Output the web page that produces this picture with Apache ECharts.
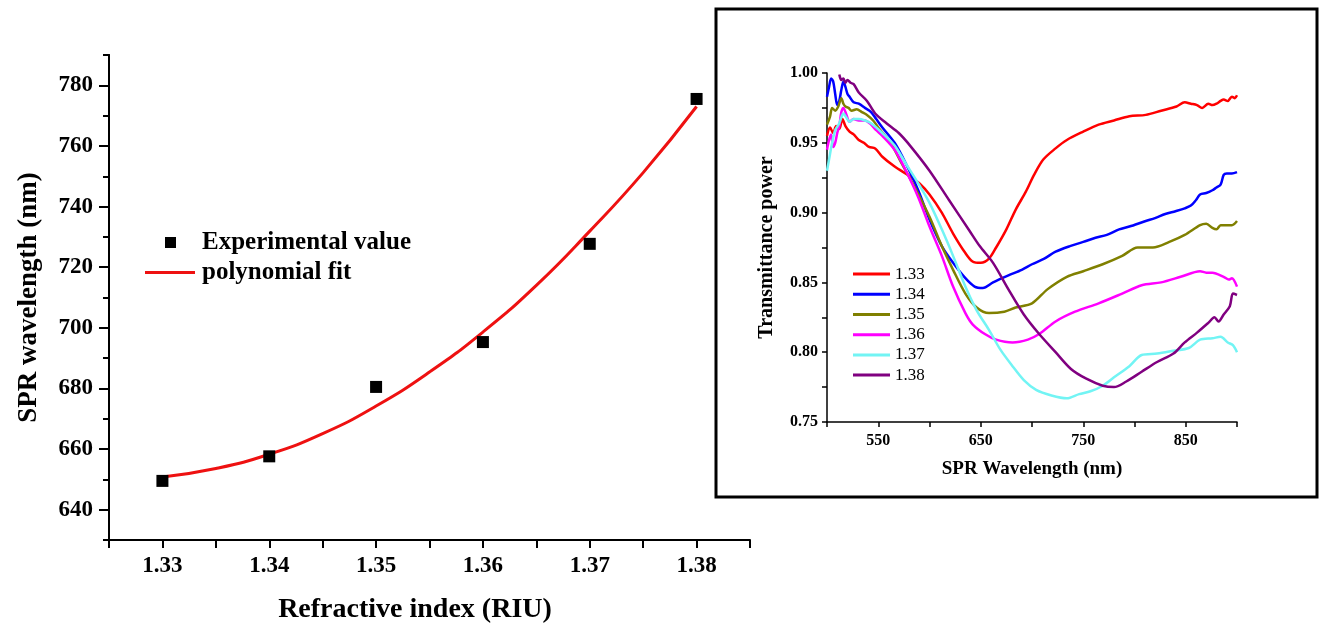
<!DOCTYPE html>
<html>
<head>
<meta charset="utf-8">
<title>SPR wavelength vs refractive index</title>
<script src="https://cdn.jsdelivr.net/npm/echarts@6/dist/echarts.min.js"></script>
<style>
  html, body { margin: 0; padding: 0; background: #fff; }
  #chart { width: 1324px; height: 630px; }
</style>
</head>
<body>
<div id="chart"></div>
<script>
// main plot: SPR dip wavelength vs refractive index
const riu = [1.33, 1.34, 1.35, 1.36, 1.37, 1.38]
const sprExp = [649.5, 657.6, 680.5, 695.3, 727.7, 775.5]
// fitted curve
const fitRiu = [1.33, 1.335, 1.34, 1.345, 1.35, 1.355, 1.36, 1.365, 1.37, 1.375, 1.38]
const fitSpr = [650.8, 653.6, 658.3, 665.1, 674.2, 685.4, 698.6, 714.0, 731.9, 751.2, 773.0]
const riuTicks = [1.33, 1.34, 1.35, 1.36, 1.37, 1.38]
const sprTicks = [640, 660, 680, 700, 720, 740, 760, 780]

// inset: transmittance spectra [wavelength nm, transmittance]
const t133 = [[500,0.955],[503,0.961],[506,0.957],[509,0.962],[512,0.960],[515,0.967],[518,0.962],[522,0.958],[526,0.956],[531,0.952],[536,0.950],[541,0.947],[547,0.946],[554,0.940],[566,0.933],[581,0.926],[590,0.921],[600,0.913],[612,0.900],[623,0.885],[635,0.871],[642,0.865],[650,0.864],[658,0.867],[665,0.875],[675,0.888],[684,0.902],[694,0.915],[702,0.927],[711,0.938],[723,0.946],[734,0.952],[750,0.958],[765,0.963],[780,0.966],[795,0.969],[811,0.970],[826,0.973],[841,0.976],[849,0.979],[855,0.978],[861,0.977],[866,0.975],[872,0.978],[876,0.977],[880,0.978],[884,0.980],[887,0.981],[891,0.980],[895,0.983],[898,0.982],[900,0.984]]
const t134 = [[500,0.983],[502,0.990],[504,0.996],[506,0.994],[508,0.985],[510,0.977],[512,0.980],[514,0.988],[516,0.994],[518,0.990],[520,0.985],[522,0.983],[526,0.979],[531,0.978],[537,0.975],[543,0.972],[548,0.967],[554,0.961],[566,0.950],[577,0.935],[589,0.916],[600,0.895],[612,0.876],[623,0.864],[635,0.853],[644,0.847],[652,0.846],[662,0.850],[677,0.855],[690,0.859],[700,0.863],[712,0.867],[723,0.872],[737,0.876],[750,0.879],[762,0.882],[773,0.884],[785,0.888],[795,0.890],[811,0.894],[820,0.896],[830,0.899],[840,0.901],[849,0.903],[855,0.905],[860,0.909],[864,0.913],[870,0.914],[876,0.916],[880,0.918],[884,0.920],[887,0.927],[890,0.928],[895,0.928],[900,0.929]]
const t135 = [[500,0.963],[503,0.969],[505,0.975],[508,0.973],[511,0.976],[514,0.982],[516,0.978],[518,0.976],[521,0.975],[524,0.973],[529,0.974],[534,0.972],[539,0.970],[545,0.966],[551,0.960],[562,0.950],[573,0.935],[585,0.919],[600,0.897],[612,0.876],[623,0.859],[635,0.842],[646,0.832],[658,0.828],[673,0.829],[684,0.832],[700,0.835],[715,0.845],[734,0.854],[750,0.858],[769,0.863],[788,0.869],[803,0.875],[818,0.875],[834,0.879],[849,0.884],[864,0.891],[870,0.892],[876,0.889],[880,0.888],[884,0.891],[887,0.891],[895,0.891],[900,0.894]]
const t136 = [[500,0.945],[502,0.952],[504,0.956],[506,0.947],[508,0.950],[510,0.957],[512,0.962],[514,0.972],[516,0.975],[519,0.970],[522,0.965],[526,0.967],[531,0.966],[537,0.966],[543,0.963],[548,0.959],[554,0.955],[566,0.945],[577,0.930],[589,0.911],[600,0.890],[612,0.869],[623,0.847],[635,0.828],[642,0.820],[654,0.813],[665,0.809],[681,0.807],[696,0.809],[707,0.813],[723,0.822],[742,0.829],[765,0.835],[788,0.842],[807,0.848],[826,0.850],[845,0.854],[864,0.858],[870,0.857],[876,0.857],[887,0.854],[892,0.852],[895,0.853],[900,0.847]]
const t137 = [[500,0.930],[502,0.938],[505,0.950],[508,0.959],[512,0.964],[516,0.971],[519,0.968],[522,0.965],[526,0.967],[531,0.967],[537,0.966],[543,0.964],[554,0.957],[566,0.948],[577,0.935],[589,0.921],[600,0.907],[612,0.888],[623,0.869],[635,0.847],[646,0.830],[658,0.816],[669,0.802],[681,0.790],[692,0.780],[704,0.773],[719,0.769],[734,0.767],[746,0.770],[757,0.772],[769,0.776],[780,0.782],[795,0.790],[807,0.798],[822,0.799],[838,0.801],[853,0.803],[864,0.809],[876,0.810],[884,0.811],[891,0.807],[896,0.805],[900,0.800]]
const t138 = [[512,0.999],[514,0.995],[516,0.996],[518,0.993],[520,0.995],[523,0.993],[526,0.992],[531,0.986],[539,0.980],[547,0.971],[558,0.964],[570,0.957],[581,0.948],[600,0.930],[619,0.909],[639,0.887],[649,0.876],[662,0.864],[677,0.845],[692,0.827],[707,0.813],[723,0.800],[738,0.788],[753,0.781],[769,0.776],[780,0.775],[792,0.779],[807,0.786],[822,0.793],[838,0.799],[849,0.807],[861,0.814],[872,0.821],[878,0.825],[882,0.822],[887,0.827],[893,0.833],[896,0.842],[900,0.841]]
const wlTicks = [550, 650, 750, 850]
const tTicks = [0.75, 0.80, 0.85, 0.90, 0.95, 1.00]

const insetNames = ['1.33', '1.34', '1.35', '1.36', '1.37', '1.38']
const insetColors = ['#ff0000', '#0000ff', '#808000', '#ff00ff', '#72f4f4', '#800080']
const insetData = [t133, t134, t135, t136, t137, t138]

const serif = 'Liberation Serif, Times New Roman, serif'

const chart = echarts.init(document.getElementById('chart'))

const insetSeries = insetNames.map((name, i) => ({
  name: name,
  type: 'line',
  xAxisIndex: 1,
  yAxisIndex: 1,
  data: insetData[i],
  symbol: 'none',
  smooth: 0.3,
  lineStyle: { color: insetColors[i], width: 2.5 },
  itemStyle: { color: insetColors[i] }
}))

const blackLine = w => ({ lineStyle: { color: '#000', width: w } })

chart.setOption({
  animation: false,
  backgroundColor: '#fff',
  graphic: [{
    type: 'rect',
    z: -10,
    shape: { x: 716, y: 9, width: 601, height: 488 },
    style: { fill: '#fff', stroke: '#000', lineWidth: 3 }
  }],
  grid: [
    { left: 109, right: 574, top: 55, bottom: 90, outerBoundsMode: 'none' },
    { left: 827, right: 87, top: 73, bottom: 208, outerBoundsMode: 'none' }
  ],
  legend: [
    {
      data: ['Experimental value'],
      left: 165, top: 230, padding: 0,
      itemWidth: 11, itemHeight: 11,
      textStyle: { fontFamily: serif, fontWeight: 'bold', fontSize: 25, color: '#000', padding: [0, 0, 0, 21] }
    },
    {
      data: [{ name: 'polynomial fit', icon: 'rect' }],
      left: 145, top: 260, padding: 0,
      itemWidth: 50, itemHeight: 3,
      textStyle: { fontFamily: serif, fontWeight: 'bold', fontSize: 25, color: '#000', padding: [0, 0, 0, 2] }
    },
    {
      data: insetNames.map(n => ({ name: n, icon: 'rect' })),
      orient: 'vertical',
      left: 853, top: 264, padding: 0,
      itemWidth: 37, itemHeight: 3, itemGap: 0,
      textStyle: { fontFamily: serif, fontSize: 17, color: '#000', lineHeight: 20.2 }
    }
  ],
  xAxis: [
    {
      type: 'value', gridIndex: 0,
      min: 1.325, max: 1.385, interval: 0.005,
      name: 'Refractive index (RIU)', nameLocation: 'middle', nameGap: 56,
      nameTextStyle: { fontFamily: serif, fontWeight: 'bold', fontSize: 28, color: '#000', padding: [0, 29, 0, 0] },
      axisLine: blackLine(2),
      axisTick: Object.assign({ length: 8 }, blackLine(2)),
      splitLine: { show: false },
      axisLabel: {
        margin: 15,
        customValues: riuTicks,
        fontFamily: serif, fontWeight: 'bold', fontSize: 23, color: '#000',
        formatter: v => v.toFixed(2)
      }
    },
    {
      type: 'value', gridIndex: 1,
      min: 500, max: 900, interval: 50,
      name: 'SPR Wavelength (nm)', nameLocation: 'middle', nameGap: 38,
      nameTextStyle: { fontFamily: serif, fontWeight: 'bold', fontSize: 19, color: '#000' },
      axisLine: blackLine(1.5),
      axisTick: Object.assign({ length: 5 }, blackLine(1.5)),
      splitLine: { show: false },
      axisLabel: {
        margin: 11,
        customValues: wlTicks,
        fontFamily: serif, fontWeight: 'bold', fontSize: 16, color: '#000'
      }
    }
  ],
  yAxis: [
    {
      // minor ticks every 10 nm
      type: 'value', gridIndex: 0, position: 'left',
      min: 630, max: 790, interval: 10,
      axisLine: blackLine(2),
      axisTick: Object.assign({ length: 6 }, blackLine(2)),
      axisLabel: { show: false },
      splitLine: { show: false }
    },
    {
      type: 'value', gridIndex: 1,
      min: 0.75, max: 1.0, interval: 0.025,
      name: 'Transmittance power', nameLocation: 'middle', nameGap: 50,
      nameTextStyle: { fontFamily: serif, fontWeight: 'bold', fontSize: 20, color: '#000' },
      axisLine: blackLine(1.5),
      axisTick: Object.assign({ length: 5 }, blackLine(1.5)),
      splitLine: { show: false },
      axisLabel: {
        margin: 9,
        customValues: tTicks,
        fontFamily: serif, fontWeight: 'bold', fontSize: 16, color: '#000',
        formatter: v => v.toFixed(2)
      }
    },
    {
      // major ticks + labels on the main plot
      type: 'value', gridIndex: 0, position: 'left', offset: 0,
      min: 630, max: 790,
      name: 'SPR wavelength (nm)', nameLocation: 'middle', nameGap: 66,
      nameTextStyle: { fontFamily: serif, fontWeight: 'bold', fontSize: 27, color: '#000' },
      axisLine: blackLine(2),
      axisTick: Object.assign({ length: 10, customValues: sprTicks }, blackLine(2)),
      splitLine: { show: false },
      axisLabel: {
        margin: 16,
        customValues: sprTicks,
        fontFamily: serif, fontWeight: 'bold', fontSize: 23, color: '#000'
      }
    }
  ],
  series: [
    {
      name: 'Experimental value',
      type: 'scatter',
      xAxisIndex: 0, yAxisIndex: 0,
      symbol: 'rect', symbolSize: 12,
      itemStyle: { color: '#000', opacity: 1 },
      z: 4,
      data: riu.map((x, i) => [x, sprExp[i]])
    },
    {
      name: 'polynomial fit',
      type: 'line',
      xAxisIndex: 0, yAxisIndex: 0,
      symbol: 'none', smooth: true,
      lineStyle: { color: '#ee1111', width: 3 },
      itemStyle: { color: '#ee1111' },
      data: fitRiu.map((x, i) => [x, fitSpr[i]])
    }
  ].concat(insetSeries)
})
</script>
</body>
</html>
